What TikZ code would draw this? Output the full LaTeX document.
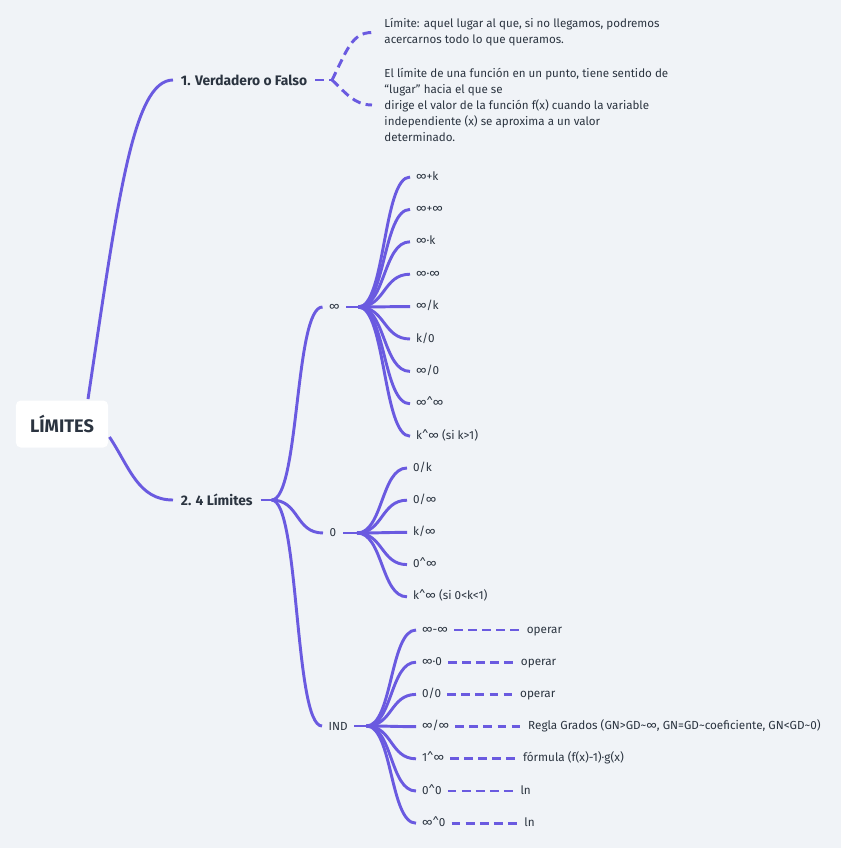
\documentclass[tikz,border=0pt]{standalone}
\usepackage{fontspec}
\setmainfont{Fira Sans}
\usetikzlibrary{positioning, calc}
\definecolor{cline}{HTML}{6A5AE0}
\definecolor{ctext}{HTML}{2B3440}
\definecolor{cbg}{HTML}{F0F3F7}
\tikzset{
  every picture/.style={x=0.03cm, y=-0.03cm, line width=2.5pt, text=ctext},
  link/.style={draw=cline},
  dashlink/.style={draw=cline, dash pattern=on 7.5pt off 4.5pt},
  root/.style={fill=white, rounded corners=4pt, minimum width=2.76cm, minimum height=1.41cm, font=\fontsize{15.5}{18}\selectfont\bfseries},
  topic/.style={font=\fontsize{11.8}{14}\selectfont\bfseries, inner xsep=5.5pt, anchor=west},
  sub/.style={font=\fontsize{10}{12}\selectfont, inner xsep=4.5pt, anchor=west},
  leaf/.style={font=\fontsize{10}{12}\selectfont, inner xsep=4pt, text height=7.5pt, text depth=2.2pt, anchor=west},
  note/.style={font=\fontsize{9.9}{13.7}\selectfont, align=left, anchor=west, inner xsep=9.4pt},
}
\begin{document}
\begin{tikzpicture}
  \fill[cbg] (0,0) rectangle (841,848);
  \useasboundingbox (0,0) rectangle (841,848);
  \node[root] (lim) at (62,424) {LÍMITES};
  \node[topic] (vf) at (173,80) {1. Verdadero o Falso};
  \node[topic] (cuatro) at (173,500) {2. 4 Límites};
  \draw[link] ($(lim.north)+(26,0)$) .. controls +(30,-200) and +(-40,0) .. (vf.west);
  \draw[link] ($(lim.east)+(0,13)$) .. controls +(20,30) and +(-35,0) .. (cuatro.west);

  \coordinate (bvf) at ($(vf.east)+(17,0)$);
  \node[note] (def1) at (372,32.5) {Límite: aquel lugar al que, si no llegamos, podremos\\acercarnos todo lo que queramos.};
  \node[note] (def2) at (372,105) {El límite de una función en un punto, tiene sentido de\\“lugar” hacia el que se\\dirige el valor de la función f(x) cuando la variable\\independiente (x) se aproxima a un valor\\determinado.};
  \draw[dashlink] (vf.east) -- (bvf);
  \draw[dashlink] (bvf) .. controls +(15,-30) and +(-20,0) .. (def1.west);
  \draw[dashlink] (bvf) .. controls +(13,12) and +(-18,0) .. (def2.west);

  \coordinate (b2) at ($(cuatro.east)+(11,0)$);
  \draw[link] (cuatro.east) -- (b2);
  \node[sub] (inf) at (322.5,307) {∞};
  \node[sub] (cero) at (323,533) {0};
  \node[sub] (ind) at (322,726) {IND};
  \foreach \m in {inf, cero, ind}
    \draw[link] (b2) .. controls +(28,0) and +(-28,0) .. (\m.west);

  \coordinate (binf) at ($(inf.east)+(12,0)$);
  \draw[link] (inf.east) -- (binf);
  \foreach \t [count=\j] in {∞+k, ∞+∞, ∞·k, ∞·∞, ∞/k, k/0, ∞/0, ∞\textasciicircum∞, k\textasciicircum∞ (si k>1)} {
    \node[leaf] (i\j) at (410,{144.6+32.4*\j}) {\t};
    \draw[link] (binf) .. controls +(27,0) and +(-27,0) .. (i\j.west);
  }

  \coordinate (bcero) at ($(cero.east)+(14,0)$);
  \draw[link] (cero.east) -- (bcero);
  \foreach \t [count=\j] in {0/k, 0/∞, k/∞, 0\textasciicircum∞, k\textasciicircum∞ (si 0<k<1)} {
    \node[leaf] (z\j) at (407,{435.8+32.2*\j}) {\t};
    \draw[link] (bcero) .. controls +(26,0) and +(-26,0) .. (z\j.west);
  }

  \coordinate (bind) at ($(ind.east)+(12,0)$);
  \draw[link] (ind.east) -- (bind);
  \foreach \t/\r [count=\j] in {∞-∞/operar, ∞·0/operar, {0/0}/operar,
      {∞/∞}/{Regla Grados (GN>GD\textasciitilde{}∞, GN=GD\textasciitilde{}coeficiente, GN<GD\textasciitilde{}0)},
      1\textasciicircum∞/{fórmula (f(x)-1)·g(x)}, 0\textasciicircum0/ln, ∞\textasciicircum0/ln} {
    \node[leaf] (c\j) at (416,{597.8+32.2*\j}) {\t};
    \draw[link] (bind) .. controls +(26,0) and +(-26,0) .. (c\j.west);
    \node[leaf, right=2cm of c\j] (r\j) {\r};
    \draw[dashlink] (c\j) -- (r\j);
  }
\end{tikzpicture}
\end{document}
